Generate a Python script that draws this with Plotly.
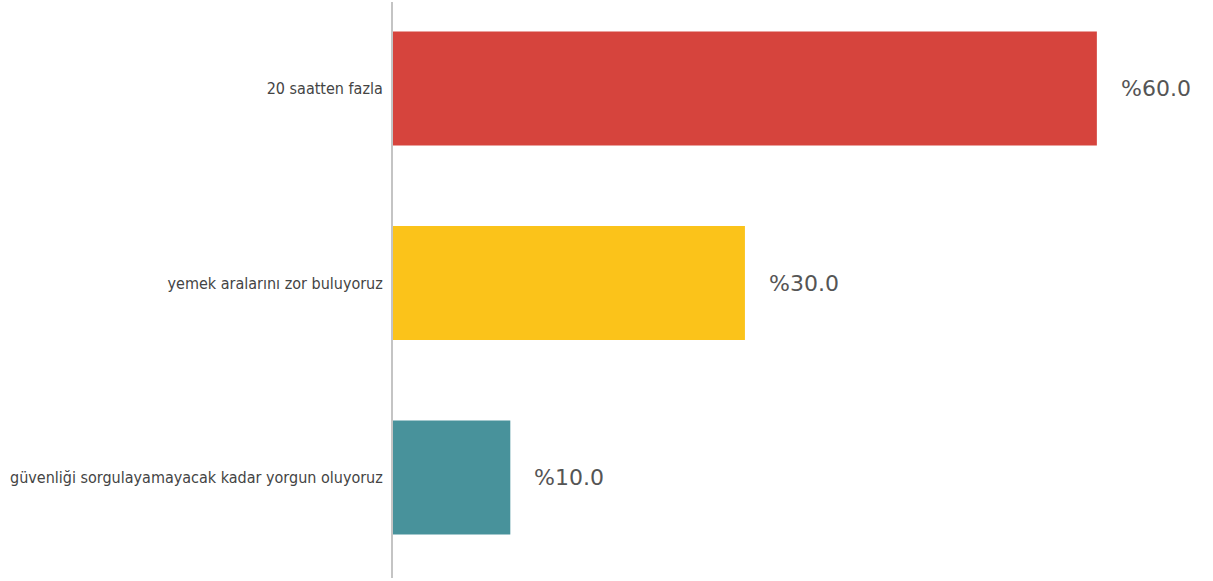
import plotly.graph_objects as go

categories = [
    "20 saatten fazla",
    "yemek aralarını zor buluyoruz",
    "güvenliği sorgulayamayacak kadar yorgun oluyoruz",
]
values = [60.0, 30.0, 10.0]
colors = ["#d6443d", "#fbc31a", "#48929b"]
value_labels = ["%" + f"{v:.1f}" for v in values]

fig = go.Figure()
fig.add_trace(go.Bar(
    x=values,
    y=categories,
    orientation="h",
    marker=dict(color=colors, line=dict(width=0)),
    width=0.586,
    hoverinfo="skip",
))

for cat, val, lab in zip(categories, values, value_labels):
    fig.add_annotation(
        x=val, y=cat, text=lab, showarrow=False,
        xanchor="left", yanchor="middle", xshift=22,
        font=dict(family="DejaVu Sans", size=22, color="#555555"),
    )

fig.update_layout(
    width=1213, height=581,
    margin=dict(l=393, r=0, t=2, b=3),
    paper_bgcolor="white", plot_bgcolor="white",
    showlegend=False,
    xaxis=dict(range=[0, 69.9], visible=False, fixedrange=True),
    yaxis=dict(
        type="category", automargin=False,
        categoryorder="array", categoryarray=categories,
        range=[2.517, -0.445],
        showline=True, linecolor="#c4c4c4", linewidth=2,
        showgrid=False, zeroline=False,
        ticks="", ticklabelstandoff=5,
        tickfont=dict(family="DejaVu Sans Condensed, Liberation Sans Narrow, Roboto",
                      size=16, color="#444444"),
    ),
)

fig.write_html("out.html")
